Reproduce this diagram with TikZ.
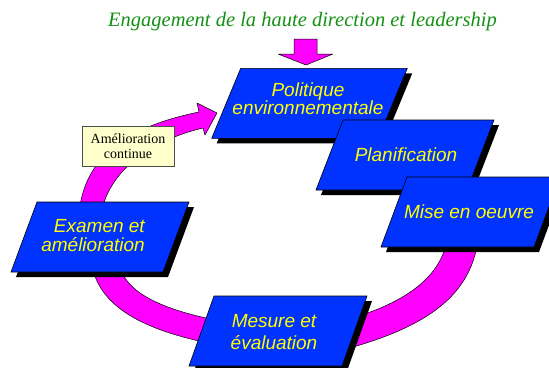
\documentclass[tikz,border=0pt]{standalone}
\usepackage{fontspec}
\setmainfont{Liberation Serif}
\setsansfont{Liberation Sans}
\definecolor{boxblue}{RGB}{0,51,255}
\definecolor{mag}{RGB}{255,0,255}
\definecolor{ttlgreen}{RGB}{20,145,20}
\definecolor{labelfill}{RGB}{255,255,204}
\definecolor{txtyellow}{RGB}{255,255,0}
\tikzset{
  band/.style={fill=mag, draw=black, line width=0.5pt, line join=round},
  pbox/.style={fill=boxblue, draw=black, line width=0.6pt},
  pshadow/.style={fill=black},
  ptext/.style={text=txtyellow, inner sep=0pt, align=center},
  lbl/.style={fill=labelfill, draw=black!70, line width=0.5pt, inner sep=0pt,
    minimum width=92pt, minimum height=40pt, align=center,
    font=\fontsize{14}{15}\selectfont},
  ttl/.style={text=ttlgreen, inner sep=0pt, font=\itshape\fontsize{20.5}{22}\selectfont},
}
\newcommand\pgbox[4]{%
  \fill[pshadow] ({#1+5},{#2+5}) -- ++(#3,0) -- ++(-#4,70) -- ++(-#3,0) -- cycle;
  \filldraw[pbox] (#1,#2) -- ++(#3,0) -- ++(-#4,70) -- ++(-#3,0) -- cycle;}
\newcommand\bfont[1]{\sffamily\itshape\fontsize{19}{#1}\selectfont\lineskiplimit=-20pt\lineskip=0pt}
\begin{document}
\begin{tikzpicture}[x=1pt,y=-1pt]
\useasboundingbox (0,0) rectangle (549,367);
\fill[white] (0,0) rectangle (549,367);
% title
\node[ttl, anchor=base] (title) at (302.5,26.7) {Engagement de la haute direction et leadership};
% down arrow
\filldraw[band] (294,39) -- (317,39) -- (317,54) -- (333,54) -- (306,65) -- (278,54) -- (294,54) -- cycle;
% top band (Examen -> Politique)
\coordinate (tA) at (79,214);
\coordinate (tB) at (199,112);
\coordinate (tC) at (203,128);
\coordinate (tD) at (101,214);
\filldraw[band] (tA) .. controls (84,155) and (130,126) .. (tB)
  -- (197,103) -- (217,113) -- (205,135) -- (tC)
  .. controls (160,138) and (110,165) .. (tD) -- cycle;
% bottom-left band (Examen -> Mesure)
\filldraw[band] (92,265) .. controls (100,310) and (150,332) .. (218,345)
  -- (226,322) .. controls (170,312) and (125,295) .. (120,265) -- cycle;
% right band (Mise en oeuvre -> Mesure)
\filldraw[band] (478,240) .. controls (470,300) and (420,330) .. (335,352)
  -- (345,320) .. controls (400,305) and (440,280) .. (447,240) -- cycle;
% boxes
\pgbox{240.7}{68.3}{166.6}{29}
\node[ptext, font=\bfont{17.5}] (pol) at (308,98.5) {Politique\\environnementale};
\pgbox{343}{120}{151}{27}
\node[ptext, font=\bfont{19}, anchor=base] (plan) at (406,161) {Planification};
\pgbox{407}{177}{153}{26}
\node[ptext, font=\bfont{19}, anchor=base] (mise) at (469,218.3) {Mise en oeuvre};
\pgbox{37}{202}{152}{26}
\node[ptext, font=\bfont{19}, align=right, anchor=east] (exam) at (145,236) {Examen et\\amélioration};
\pgbox{214}{296}{153}{25}
\node[ptext, font=\bfont{21.7}] (mes) at (274,332.3) {Mesure et\\évaluation};
% label
\node[lbl] (amc) at (128,146) {Amélioration\\continue};
\end{tikzpicture}
\end{document}
